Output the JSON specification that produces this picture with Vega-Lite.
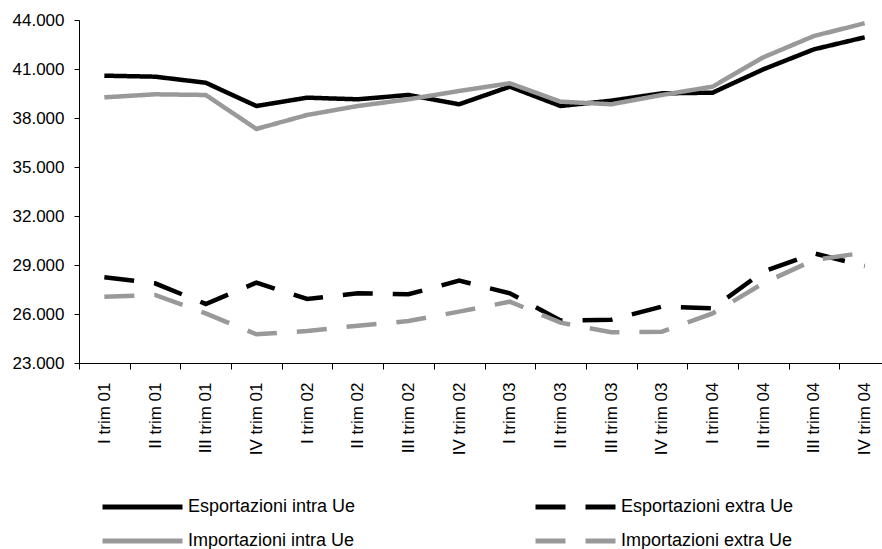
{
  "$schema": "https://vega.github.io/schema/vega-lite/v6.json",
  "width": 811,
  "height": 343,
  "padding": {"left": 12, "top": 11, "right": 0, "bottom": 0},
  "background": "white",
  "config": {
    "view": {"stroke": null},
    "font": "Liberation Sans",
    "axis": {"labelFont": "Liberation Sans", "labelColor": "#000000", "domainColor": "#000000", "tickColor": "#000000", "grid": false, "domainWidth": 1, "tickWidth": 1},
    "legend": {"labelFont": "Liberation Sans"}
  },
  "data": {
    "values": [
      {"q": "I trim 01", "s": "Esportazioni intra Ue", "v": 40590},
      {"q": "II trim 01", "s": "Esportazioni intra Ue", "v": 40530},
      {"q": "III trim 01", "s": "Esportazioni intra Ue", "v": 40160},
      {"q": "IV trim 01", "s": "Esportazioni intra Ue", "v": 38735},
      {"q": "I trim 02", "s": "Esportazioni intra Ue", "v": 39245},
      {"q": "II trim 02", "s": "Esportazioni intra Ue", "v": 39145},
      {"q": "III trim 02", "s": "Esportazioni intra Ue", "v": 39410},
      {"q": "IV trim 02", "s": "Esportazioni intra Ue", "v": 38840},
      {"q": "I trim 03", "s": "Esportazioni intra Ue", "v": 39920},
      {"q": "II trim 03", "s": "Esportazioni intra Ue", "v": 38735},
      {"q": "III trim 03", "s": "Esportazioni intra Ue", "v": 39060},
      {"q": "IV trim 03", "s": "Esportazioni intra Ue", "v": 39510},
      {"q": "I trim 04", "s": "Esportazioni intra Ue", "v": 39550},
      {"q": "II trim 04", "s": "Esportazioni intra Ue", "v": 40980},
      {"q": "III trim 04", "s": "Esportazioni intra Ue", "v": 42205},
      {"q": "IV trim 04", "s": "Esportazioni intra Ue", "v": 42940},
      {"q": "I trim 01", "s": "Importazioni intra Ue", "v": 39265},
      {"q": "II trim 01", "s": "Importazioni intra Ue", "v": 39450},
      {"q": "III trim 01", "s": "Importazioni intra Ue", "v": 39410},
      {"q": "IV trim 01", "s": "Importazioni intra Ue", "v": 37330},
      {"q": "I trim 02", "s": "Importazioni intra Ue", "v": 38185},
      {"q": "II trim 02", "s": "Importazioni intra Ue", "v": 38735},
      {"q": "III trim 02", "s": "Importazioni intra Ue", "v": 39145},
      {"q": "IV trim 02", "s": "Importazioni intra Ue", "v": 39655},
      {"q": "I trim 03", "s": "Importazioni intra Ue", "v": 40125},
      {"q": "II trim 03", "s": "Importazioni intra Ue", "v": 39000},
      {"q": "III trim 03", "s": "Importazioni intra Ue", "v": 38840},
      {"q": "IV trim 03", "s": "Importazioni intra Ue", "v": 39410},
      {"q": "I trim 04", "s": "Importazioni intra Ue", "v": 39920},
      {"q": "II trim 04", "s": "Importazioni intra Ue", "v": 41715},
      {"q": "III trim 04", "s": "Importazioni intra Ue", "v": 43020},
      {"q": "IV trim 04", "s": "Importazioni intra Ue", "v": 43800},
      {"q": "I trim 01", "s": "Esportazioni extra Ue", "v": 28250},
      {"q": "II trim 01", "s": "Esportazioni extra Ue", "v": 27880},
      {"q": "III trim 01", "s": "Esportazioni extra Ue", "v": 26615},
      {"q": "IV trim 01", "s": "Esportazioni extra Ue", "v": 27920},
      {"q": "I trim 02", "s": "Esportazioni extra Ue", "v": 26920},
      {"q": "II trim 02", "s": "Esportazioni extra Ue", "v": 27270},
      {"q": "III trim 02", "s": "Esportazioni extra Ue", "v": 27210},
      {"q": "IV trim 02", "s": "Esportazioni extra Ue", "v": 28040},
      {"q": "I trim 03", "s": "Esportazioni extra Ue", "v": 27270},
      {"q": "II trim 03", "s": "Esportazioni extra Ue", "v": 25600},
      {"q": "III trim 03", "s": "Esportazioni extra Ue", "v": 25650},
      {"q": "IV trim 03", "s": "Esportazioni extra Ue", "v": 26450},
      {"q": "I trim 04", "s": "Esportazioni extra Ue", "v": 26350},
      {"q": "II trim 04", "s": "Esportazioni extra Ue", "v": 28590},
      {"q": "III trim 04", "s": "Esportazioni extra Ue", "v": 29715},
      {"q": "IV trim 04", "s": "Esportazioni extra Ue", "v": 28940},
      {"q": "I trim 01", "s": "Importazioni extra Ue", "v": 27060},
      {"q": "II trim 01", "s": "Importazioni extra Ue", "v": 27165},
      {"q": "III trim 01", "s": "Importazioni extra Ue", "v": 26040},
      {"q": "IV trim 01", "s": "Importazioni extra Ue", "v": 24755},
      {"q": "I trim 02", "s": "Importazioni extra Ue", "v": 24960},
      {"q": "II trim 02", "s": "Importazioni extra Ue", "v": 25285},
      {"q": "III trim 02", "s": "Importazioni extra Ue", "v": 25570},
      {"q": "IV trim 02", "s": "Importazioni extra Ue", "v": 26145},
      {"q": "I trim 03", "s": "Importazioni extra Ue", "v": 26755},
      {"q": "II trim 03", "s": "Importazioni extra Ue", "v": 25470},
      {"q": "III trim 03", "s": "Importazioni extra Ue", "v": 24880},
      {"q": "IV trim 03", "s": "Importazioni extra Ue", "v": 24920},
      {"q": "I trim 04", "s": "Importazioni extra Ue", "v": 26040},
      {"q": "II trim 04", "s": "Importazioni extra Ue", "v": 27880},
      {"q": "III trim 04", "s": "Importazioni extra Ue", "v": 29310},
      {"q": "IV trim 04", "s": "Importazioni extra Ue", "v": 29760}
    ]
  },
  "mark": {"type": "line", "strokeWidth": 4.5, "strokeCap": "butt", "strokeJoin": "miter"},
  "encoding": {
    "x": {
      "field": "q",
      "type": "ordinal",
      "sort": null,
      "bandPosition": 0.5,
      "scale": {"type": "band", "paddingInner": 0, "paddingOuter": 0},
      "axis": {"title": null, "labelAngle": -90, "labelFontSize": 17, "labelPadding": 13, "tickSize": 6, "tickBand": "extent", "labelBaseline": "middle", "labelAlign": "right"}
    },
    "y": {
      "field": "v",
      "type": "quantitative",
      "scale": {"domain": [23000, 44000], "nice": false, "zero": false},
      "axis": {"title": null, "values": [23000, 26000, 29000, 32000, 35000, 38000, 41000, 44000], "labelExpr": "replace(format(datum.value, ',.0f'), ',', '.')", "labelFontSize": 17, "tickSize": 5, "labelPadding": 10}
    },
    "color": {
      "field": "s",
      "type": "nominal",
      "scale": {"domain": ["Esportazioni intra Ue", "Importazioni intra Ue", "Esportazioni extra Ue", "Importazioni extra Ue"], "range": ["#000000", "#999999", "#000000", "#999999"]},
      "legend": {"title": null, "orient": "none", "legendX": 21, "legendY": 477, "columns": 2, "columnPadding": 177, "rowPadding": 14, "clipHeight": 20, "symbolType": "stroke", "symbolSize": 6400, "symbolStrokeWidth": 5, "labelFontSize": 18, "labelLimit": 400, "labelOffset": 3, "labelColor": "#000000"}
    },
    "strokeDash": {
      "field": "s",
      "type": "nominal",
      "scale": {"domain": ["Esportazioni intra Ue", "Importazioni intra Ue", "Esportazioni extra Ue", "Importazioni extra Ue"], "range": [[1, 0], [1, 0], [30, 20], [30, 20]]},
      "legend": {"title": null, "orient": "none", "legendX": 21, "legendY": 477, "columns": 2, "columnPadding": 177, "rowPadding": 14, "clipHeight": 20, "symbolType": "stroke", "symbolSize": 6400, "symbolStrokeWidth": 5, "labelFontSize": 18, "labelLimit": 400, "labelOffset": 3, "labelColor": "#000000"}
    }
  }
}
